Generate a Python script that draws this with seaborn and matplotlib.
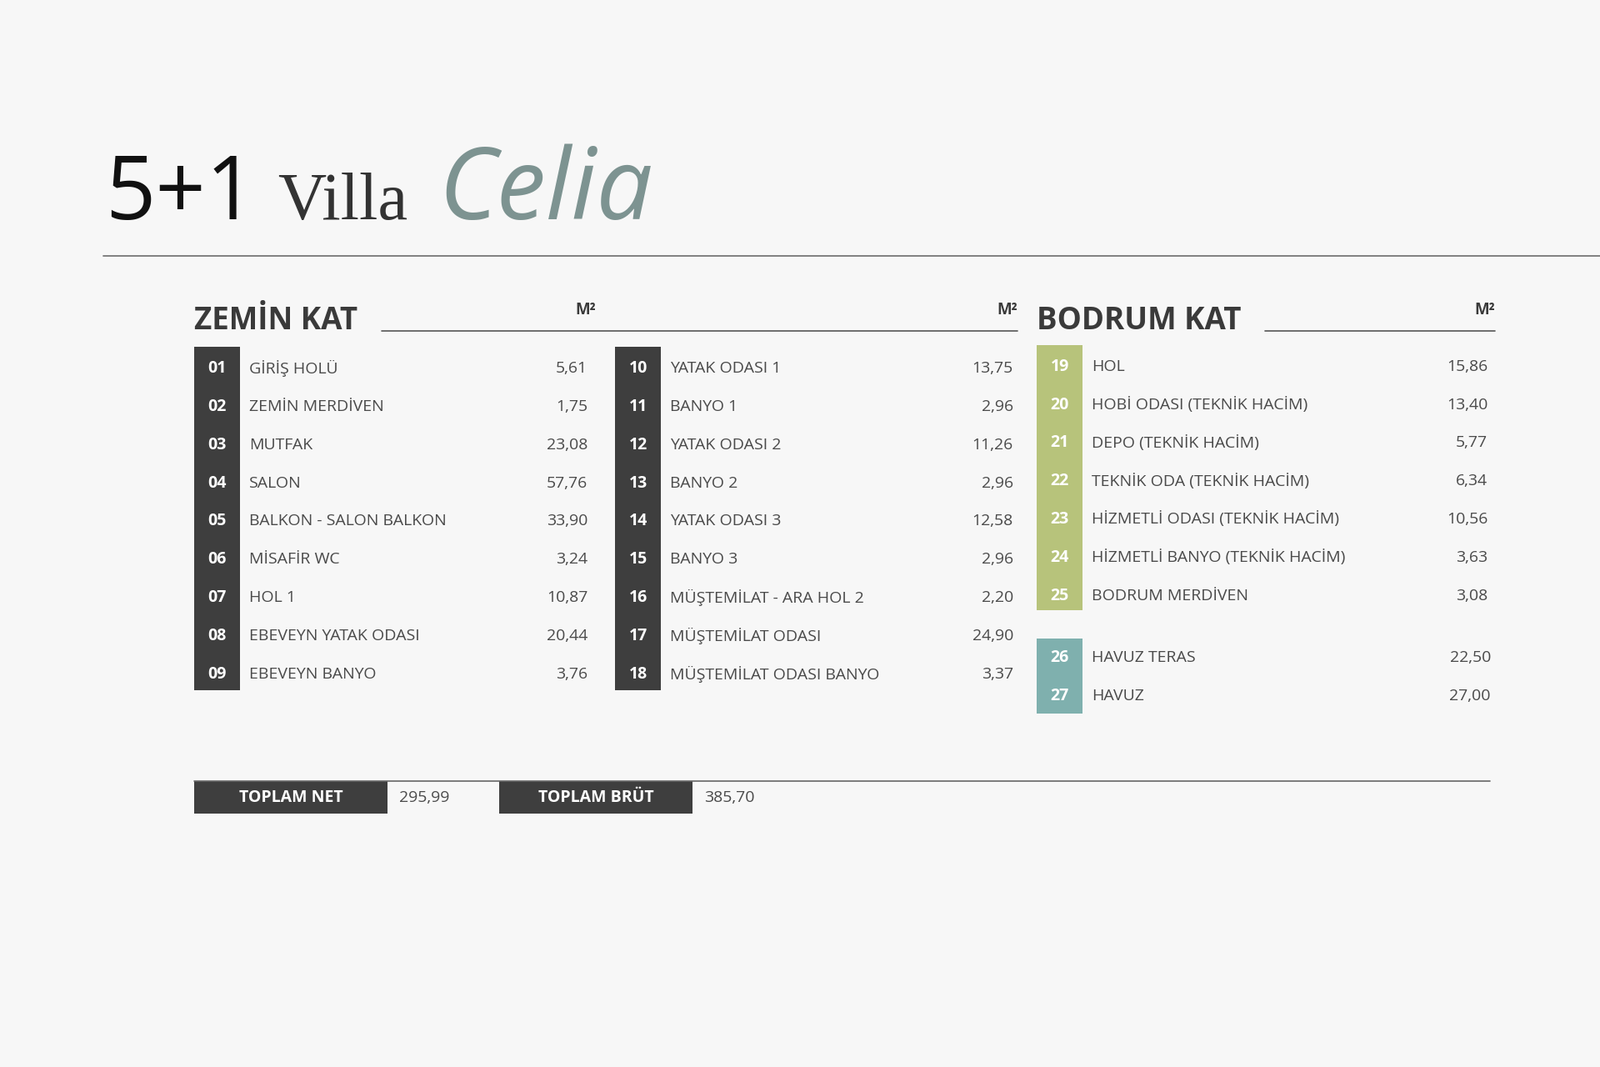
import matplotlib.pyplot as plt
import seaborn as sns
from matplotlib.patches import Rectangle

sns.set_theme(style="white")

# data
zemin_no = ["01", "02", "03", "04", "05", "06", "07", "08", "09"]
zemin_room = ["GİRİŞ HOLÜ", "ZEMİN MERDİVEN", "MUTFAK", "SALON", "BALKON - SALON BALKON",
              "MİSAFİR WC", "HOL 1", "EBEVEYN YATAK ODASI", "EBEVEYN BANYO"]
zemin_m2 = ["5,61", "1,75", "23,08", "57,76", "33,90", "3,24", "10,87", "20,44", "3,76"]

kat2_no = ["10", "11", "12", "13", "14", "15", "16", "17", "18"]
kat2_room = ["YATAK ODASI 1", "BANYO 1", "YATAK ODASI 2", "BANYO 2", "YATAK ODASI 3", "BANYO 3",
             "MÜŞTEMİLAT - ARA HOL 2", "MÜŞTEMİLAT ODASI", "MÜŞTEMİLAT ODASI BANYO"]
kat2_m2 = ["13,75", "2,96", "11,26", "2,96", "12,58", "2,96", "2,20", "24,90", "3,37"]

bodrum_no = ["19", "20", "21", "22", "23", "24", "25"]
bodrum_room = ["HOL", "HOBİ ODASI (TEKNİK HACİM)", "DEPO (TEKNİK HACİM)", "TEKNİK ODA (TEKNİK HACİM)",
               "HİZMETLİ ODASI (TEKNİK HACİM)", "HİZMETLİ BANYO (TEKNİK HACİM)", "BODRUM MERDİVEN"]
bodrum_m2 = ["15,86", "13,40", "5,77", "6,34", "10,56", "3,63", "3,08"]

havuz_no = ["26", "27"]
havuz_room = ["HAVUZ TERAS", "HAVUZ"]
havuz_m2 = ["22,50", "27,00"]

totals_label = ["TOPLAM NET", "TOPLAM BRÜT"]
totals_value = ["295,99", "385,70"]

BG = "#f7f7f7"
DARK = "#3e3e3e"
GREEN = "#b7c37b"
TEAL = "#7fb0ae"
TXT = "#4a4a4a"
FONT = "Open Sans"

fig = plt.figure(figsize=(19.2, 12.8), dpi=100, facecolor=BG)
ax = fig.add_axes([0, 0, 1, 1])
ax.set_facecolor(BG)
ax.set_xlim(0, 1568)
ax.set_ylim(1045, 0)
ax.axis("off")

# title
ax.text(103, 215, "5+1", fontsize=76, color="#111111", family="Open Sans", va="baseline")
ax.text(272, 215, "Villa", fontsize=58, color="#333333", family="Liberation Serif", va="baseline")
ax.text(430, 215, "Celia", fontsize=86, color="#7d9391", family="Open Sans", style="italic", va="baseline")
ax.plot([101, 1568], [251, 251], color="#777777", lw=1.3)

def section(x0, y0, step, nos, rooms, vals, color, valx, top, bottom):
    ax.add_patch(Rectangle((x0, top), 45, bottom - top, color=color, lw=0))
    for i, (n, r, v) in enumerate(zip(nos, rooms, vals)):
        y = y0 + i * step
        ax.text(x0 + 22.5, y, n, ha="center", va="center", color="white", fontsize=14,
                fontweight="bold", family=FONT)
        ax.text(x0 + 54, y, r, ha="left", va="center", color=TXT, fontsize=14, family=FONT)
        ax.text(valx, y, v, ha="right", va="center", color=TXT, fontsize=14, family=FONT)

section(190, 361, 37.4, zemin_no, zemin_room, zemin_m2, DARK, 576, 340, 676)
section(603, 361, 37.4, kat2_no, kat2_room, kat2_m2, DARK, 993, 340, 676)
section(1016, 359, 37.4, bodrum_no, bodrum_room, bodrum_m2, GREEN, 1458, 338, 598)
section(1016, 644, 37.4, havuz_no, havuz_room, havuz_m2, TEAL, 1461, 625, 699)

# headers
for x, t in [(190, "ZEMİN KAT"), (1016, "BODRUM KAT")]:
    ax.text(x, 314, t, fontsize=26.5, fontweight="bold", color="#3a3a3a", family=FONT, va="center")
for x in [584, 997, 1465]:
    ax.text(x, 304, "M²", fontsize=13.5, fontweight="bold", color="#3a3a3a", family=FONT,
            ha="right", va="center")
ax.plot([374, 997], [324, 324], color="#555555", lw=1.2)
ax.plot([1240, 1465], [324, 324], color="#555555", lw=1.2)

# totals
ax.plot([190, 1460], [765, 765], color="#666666", lw=1.2)
for i, (lab, val) in enumerate(zip(totals_label, totals_value)):
    x = 190 + i * 299
    ax.add_patch(Rectangle((x, 765), 190, 32, color=DARK, lw=0))
    ax.text(x + 95, 781, lab, ha="center", va="center", color="white", fontsize=14,
            fontweight="bold", family=FONT)
    ax.text(x + 201, 781, val, ha="left", va="center", color=TXT, fontsize=14, family=FONT)

fig.savefig("out.png", dpi=100, facecolor=BG)
